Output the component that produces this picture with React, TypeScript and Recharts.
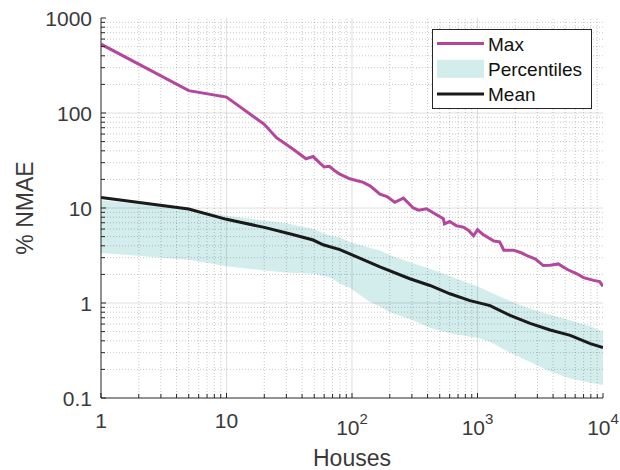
import React from 'react';
import { ComposedChart, Area, Line, XAxis, YAxis, ReferenceLine, Legend } from 'recharts';

// Max NMAE over all aggregations
const maxHouses = [1, 5, 10, 20, 25, 34, 43, 49, 55, 60, 66, 72, 80, 96, 123, 140, 167, 190, 219, 257, 308, 340, 393, 450, 535, 545, 600, 680, 770, 850, 930, 1000, 1100, 1350, 1500, 1620, 1940, 2200, 2480, 2900, 3340, 3800, 4400, 5200, 6200, 7000, 8400, 9400, 10000];
const maxNmae = [530, 172, 147, 76, 55, 41.6, 33, 34.8, 30, 27, 27.5, 25, 22.7, 20.3, 18.6, 17, 14, 13.2, 11.5, 12.7, 10, 9.5, 9.8, 8.8, 7.7, 6.8, 7.2, 6.5, 6.3, 5.8, 5.1, 5.9, 5.3, 4.5, 4.4, 3.6, 3.6, 3.4, 3.16, 2.9, 2.48, 2.5, 2.58, 2.25, 2.03, 1.85, 1.73, 1.68, 1.5];

// mean NMAE
const meanHouses = [1, 5, 10, 20, 33, 49, 59, 80, 96, 167, 289, 418, 603, 871, 1258, 1818, 2626, 3793, 5479, 7916, 10000];
const meanNmae = [12.9, 9.76, 7.6, 6.25, 5.3, 4.6, 4.1, 3.65, 3.29, 2.4, 1.8, 1.53, 1.25, 1.06, 0.94, 0.74, 0.61, 0.52, 0.457, 0.374, 0.34];

// percentile band (low / high)
const bandHouses = [1, 5, 10, 20, 30, 49, 67, 80, 96, 140, 167, 200, 289, 418, 603, 871, 1000, 1258, 1818, 2626, 3793, 5479, 7900, 10000];
const bandLow = [3.37, 2.85, 2.44, 2.2, 2.1, 2.03, 1.85, 1.6, 1.45, 1.02, 0.92, 0.8, 0.68, 0.55, 0.48, 0.44, 0.43, 0.39, 0.3, 0.24, 0.19, 0.16, 0.145, 0.137];
const bandHigh = [12.1, 9.76, 8.3, 7.4, 6.9, 6.0, 5.1, 4.9, 4.4, 3.8, 3.56, 3.2, 2.69, 2.29, 1.92, 1.59, 1.5, 1.3, 1.05, 0.87, 0.75, 0.66, 0.57, 0.5];

const xMajor = [1, 10, 100, 1000, 10000];
const yMajor = [0.1, 1, 10, 100, 1000];
const minorSteps = [2, 3, 4, 5, 6, 7, 8, 9];

const xMinor = xMajor.slice(0, -1).flatMap(d => minorSteps.map(k => d * k));
const yMinor = yMajor.slice(0, -1).flatMap(d => minorSteps.map(k => +(d * k).toPrecision(3)));
const xTicks = [...xMajor, ...xMinor].sort((a, b) => a - b);
const yTicks = [...yMajor, ...yMinor].sort((a, b) => a - b);

const MAX_COLOR = '#b4479d';
const BAND_COLOR = '#d3ecec';
const MEAN_COLOR = '#1a1a1a';
const AXIS_COLOR = '#262626';
const TEXT_COLOR = '#3a3a3a';
const FONT = '"Liberation Sans", Arial, Helvetica, sans-serif';

type Row = { houses: number; max?: number; mean?: number; band?: [number, number] };

const rowMap = new Map<number, Row>();
const rowFor = (h: number) => {
  if (!rowMap.has(h)) rowMap.set(h, { houses: h });
  return rowMap.get(h)!;
};
maxHouses.forEach((h, i) => { rowFor(h).max = maxNmae[i]; });
meanHouses.forEach((h, i) => { rowFor(h).mean = meanNmae[i]; });
bandHouses.forEach((h, i) => { rowFor(h).band = [bandLow[i], bandHigh[i]]; });
const chartData = [...rowMap.values()].sort((a, b) => a.houses - b.houses);

const isMajorX = (v: number) => xMajor.includes(v);
const isMajorY = (v: number) => yMajor.includes(v);

function BottomTick({ x, y, payload }: any) {
  const v = payload.value;
  const major = isMajorX(v);
  const exp = Math.round(Math.log10(v));
  return (
    <g>
      <line x1={x} x2={x} y1={y} y2={y - (major ? 5 : 4)} stroke={AXIS_COLOR} />
      {major && (exp < 2 ? (
        <text x={x} y={y + 30} textAnchor="middle" fontSize={21} fill={TEXT_COLOR} fontFamily={FONT}>{v}</text>
      ) : (
        <text x={x} y={y + 37} textAnchor="middle" fontSize={21} fill={TEXT_COLOR} fontFamily={FONT}>
          <tspan>10</tspan>
          <tspan dy={-11} fontSize={15}>{exp}</tspan>
        </text>
      ))}
    </g>
  );
}

function TopTick({ x, y, payload }: any) {
  const len = isMajorX(payload.value) ? 5 : 4;
  return <line x1={x} x2={x} y1={y} y2={y + len} stroke={AXIS_COLOR} />;
}

function LeftTick({ x, y, payload }: any) {
  const v = payload.value;
  const major = isMajorY(v);
  const ax = x + 9;
  return (
    <g>
      <line x1={ax} x2={ax + (major ? 5 : 4)} y1={y} y2={y} stroke={AXIS_COLOR} />
      {major && (
        <text x={x} y={y} dy="0.36em" textAnchor="end" fontSize={21} fill={TEXT_COLOR} fontFamily={FONT}>{v}</text>
      )}
    </g>
  );
}

function RightTick({ x, y, payload }: any) {
  const len = isMajorY(payload.value) ? 5 : 4;
  return <line x1={x} x2={x - len} y1={y} y2={y} stroke={AXIS_COLOR} />;
}

function YLabel({ viewBox }: any) {
  const cx = viewBox.x + 33;
  const cy = viewBox.y + viewBox.height / 2;
  return (
    <text x={cx} y={cy} transform={`rotate(-90 ${cx} ${cy})`} textAnchor="middle" fontSize={23} fill={TEXT_COLOR} fontFamily={FONT}>
      % NMAE
    </text>
  );
}

function LegendBox() {
  const rows = [
    { name: 'Max', kind: 'line', color: MAX_COLOR },
    { name: 'Percentiles', kind: 'area', color: BAND_COLOR },
    { name: 'Mean', kind: 'line', color: MEAN_COLOR },
  ];
  return (
    <svg width={160} height={80} style={{ display: 'block' }}>
      <rect x={0.5} y={0.5} width={159} height={79} fill="#fff" stroke={AXIS_COLOR} />
      {rows.map((r, i) => {
        const cy = 14.5 + i * 25.3;
        return (
          <g key={r.name}>
            {r.kind === 'line' ? (
              <line x1={5} x2={52} y1={cy} y2={cy} stroke={r.color} strokeWidth={3} />
            ) : (
              <rect x={5} y={cy - 9} width={47} height={18} fill={r.color} />
            )}
            <text x={56} y={cy + 7} fontSize={19} fill="#111" fontFamily={FONT}>{r.name}</text>
          </g>
        );
      })}
    </svg>
  );
}

export default function App() {
  return (
    <div style={{ position: 'absolute', left: 0, top: 0, width: 620, height: 470, background: '#fff' }}>
      <ComposedChart width={620} height={470} data={chartData} margin={{ top: 18, right: 17, bottom: 0, left: 0 }}>
        <XAxis
          dataKey="houses" type="number" scale="log" domain={[1, 10000]} allowDataOverflow
          ticks={xTicks} interval={0} height={72} tickSize={0} tickMargin={0}
          tick={<BottomTick />} axisLine={{ stroke: AXIS_COLOR }}
          label={{ value: 'Houses', position: 'insideBottom', offset: 4, fontSize: 23, fill: TEXT_COLOR, fontFamily: FONT }}
        />
        <XAxis
          xAxisId="top" orientation="top" dataKey="houses" type="number" scale="log" domain={[1, 10000]} allowDataOverflow
          ticks={xTicks} interval={0} height={0} tickSize={0} tickMargin={0}
          tick={<TopTick />} axisLine={{ stroke: AXIS_COLOR }}
        />
        <YAxis
          type="number" scale="log" domain={[0.1, 1000]} allowDataOverflow
          ticks={yTicks} interval={0} width={101} tickSize={0} tickMargin={9}
          tick={<LeftTick />} axisLine={{ stroke: AXIS_COLOR }}
          label={{ content: <YLabel /> }}
        />
        <YAxis
          yAxisId="right" orientation="right" type="number" scale="log" domain={[0.1, 1000]} allowDataOverflow
          ticks={yTicks} interval={0} width={0} tickSize={0} tickMargin={0}
          tick={<RightTick />} axisLine={{ stroke: AXIS_COLOR }}
        />

        {xMinor.map(v => (
          <ReferenceLine key={`xm${v}`} x={v} stroke={AXIS_COLOR} strokeOpacity={0.25} strokeDasharray="1 2" />
        ))}
        {yMinor.map(v => (
          <ReferenceLine key={`ym${v}`} y={v} stroke={AXIS_COLOR} strokeOpacity={0.25} strokeDasharray="1 2" />
        ))}
        {xMajor.slice(1, -1).map(v => (
          <ReferenceLine key={`xM${v}`} x={v} stroke={AXIS_COLOR} strokeOpacity={0.15} />
        ))}
        {yMajor.slice(1, -1).map(v => (
          <ReferenceLine key={`yM${v}`} y={v} stroke={AXIS_COLOR} strokeOpacity={0.15} />
        ))}

        <Area
          dataKey="band" name="Percentiles" type="linear" fill={BAND_COLOR} fillOpacity={1} stroke="none"
          connectNulls isAnimationActive={false}
        />
        <Line
          dataKey="max" name="Max" type="linear" stroke={MAX_COLOR} strokeWidth={3} dot={false}
          connectNulls isAnimationActive={false}
        />
        <Line
          dataKey="mean" name="Mean" type="linear" stroke={MEAN_COLOR} strokeWidth={3} dot={false}
          connectNulls isAnimationActive={false}
        />
        <Legend
          layout="vertical" align="center" verticalAlign="middle"
          wrapperStyle={{ left: 432, top: 29, width: 160, height: 80 }}
          content={<LegendBox />}
        />
      </ComposedChart>
    </div>
  );
}
